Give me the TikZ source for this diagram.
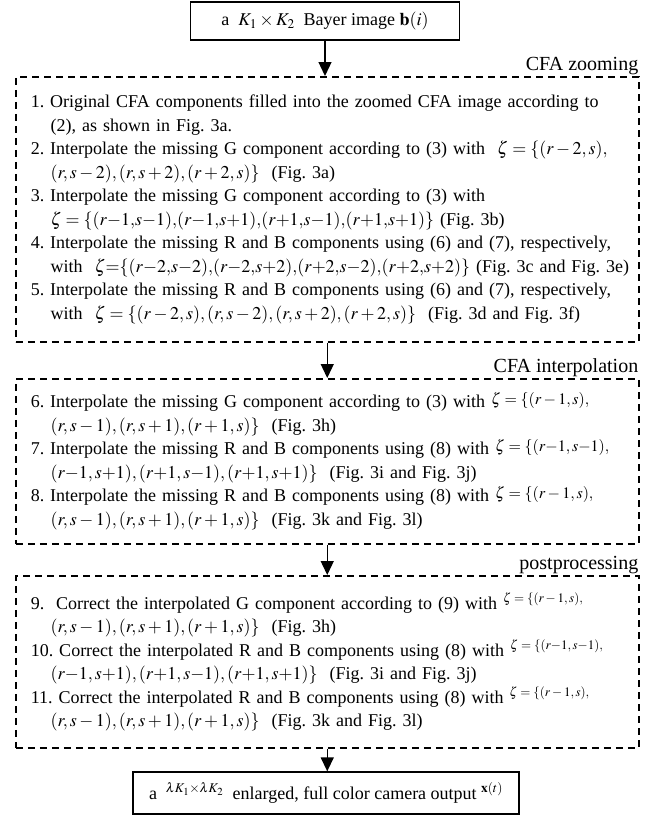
\documentclass[tikz,border=0pt]{standalone}
\usepackage{mathptmx}
\usepackage{fontspec}
\setmainfont{Liberation Serif}
\usetikzlibrary{positioning,arrows.meta}
\frenchspacing
\newcommand{\zset}[1]{\raisebox{3pt}{\fontsize{16}{16}\selectfont #1}}
\newcommand{\zsup}[1]{\raisebox{7pt}{\fontsize{13}{13}\selectfont #1}}
\newcommand{\cont}{\hspace*{1.1em}}

\begin{document}
\begin{tikzpicture}[x=1pt, y=1pt,
    box/.style={draw, line width=1.3pt, align=center, font=\fontsize{18}{22}\selectfont},
    stage/.style={draw, line width=1.5pt, dash pattern=on 7pt off 5pt, anchor=north west,
      text width=593pt, inner xsep=15pt, align=left, font=\fontsize{18}{23.5}\selectfont},
    stagename/.style={anchor=south east, inner sep=1pt, font=\fontsize{20}{20}\selectfont},
    arr/.style={-{Triangle[length=14pt, width=13pt]}, line width=1.3pt}]
  \useasboundingbox (0,0) rectangle (661,-817);
  \node[box, minimum width=269pt, minimum height=38pt] (bayer) at (325,-21)
    {a \ $K_1\times K_2$\ \ Bayer image $\mathbf{b}(i)$};
  % CFA zooming
  \node[stage, minimum height=265pt] (zoom) at (15,-76) {%
    \mbox{1. Original CFA components filled into the zoomed CFA image according to}\\
    \cont\mbox{(2), as shown in Fig. 3a.}\\
    \mbox{2. Interpolate the missing G component according to (3) with \ $\zeta=\{(r-2,s),$}\\
    \cont\mbox{$(r,s-2),(r,s+2),(r+2,s)\}$ \ (Fig. 3a)}\\
    \mbox{3. Interpolate the missing G component according to (3) with}\\
    \cont\mbox{$\zeta=\{(r{-}1{,}s{-}1){,}(r{-}1{,}s{+}1){,}(r{+}1{,}s{-}1){,}(r{+}1{,}s{+}1)\}$ (Fig. 3b)}\\
    \mbox{4. Interpolate the missing R and B components using (6) and (7), respectively,}\\
    \cont\mbox{with \ $\zeta{=}\{(r{-}2{,}s{-}2){,}(r{-}2{,}s{+}2){,}(r{+}2{,}s{-}2){,}(r{+}2{,}s{+}2)\}$ (Fig. 3c and Fig. 3e)}\\
    \mbox{5. Interpolate the missing R and B components using (6) and (7), respectively,}\\
    \cont\mbox{with \ $\zeta=\{(r-2,s),(r,s-2),(r,s+2),(r+2,s)\}$ \ (Fig. 3d and Fig. 3f)}};
  \node[stagename] (zoomname) at (zoom.north east) {CFA zooming};
  % CFA interpolation
  \node[stage, minimum height=165pt] (interp) at (15,-378) {%
    \mbox{6. Interpolate the missing G component according to (3) with \zset{$\zeta=\{(r-1,s),$}}\\
    \cont\mbox{$(r,s-1),(r,s+1),(r+1,s)\}$ \ (Fig. 3h)}\\
    \mbox{7. Interpolate the missing R and B components using (8) with \zset{$\zeta=\{(r{-}1,s{-}1),$}}\\
    \cont\mbox{$(r{-}1,s{+}1),(r{+}1,s{-}1),(r{+}1,s{+}1)\}$ \ (Fig. 3i and Fig. 3j)}\\
    \mbox{8. Interpolate the missing R and B components using (8) with \zset{$\zeta=\{(r-1,s),$}}\\
    \cont\mbox{$(r,s-1),(r,s+1),(r+1,s)\}$ \ (Fig. 3k and Fig. 3l)}};
  \node[stagename] (interpname) at (interp.north east) {CFA interpolation};
  % postprocessing
  \node[stage, minimum height=172pt] (post) at (15,-575) {%
    \mbox{9.\ \ Correct the interpolated G component according to (9) with \zsup{$\zeta=\{(r-1,s),$}}\\
    \cont\mbox{$(r,s-1),(r,s+1),(r+1,s)\}$ \ (Fig. 3h)}\\
    \mbox{10. Correct the interpolated R and B components using (8) with \zsup{$\zeta=\{(r{-}1,s{-}1),$}}\\
    \cont\mbox{$(r{-}1,s{+}1),(r{+}1,s{-}1),(r{+}1,s{+}1)\}$ \ (Fig. 3i and Fig. 3j)}\\
    \mbox{11. Correct the interpolated R and B components using (8) with \zsup{$\zeta=\{(r-1,s),$}}\\
    \cont\mbox{$(r,s-1),(r,s+1),(r+1,s)\}$ \ (Fig. 3k and Fig. 3l)}};
  \node[stagename] (postname) at (post.north east) {postprocessing};
  \node[box, minimum width=386pt, minimum height=42pt] (output) at (326,-793)
    {a \ $^{\lambda K_1\times\lambda K_2}$\ \ enlarged, full color camera output $^{\mathbf{x}(t)}$};
  \draw[arr] (bayer.south) -- (bayer.south |- zoom.north);
  \draw[arr] (zoom.south) -- (interp.north);
  \draw[arr] (interp.south) -- (post.north);
  \draw[arr] (post.south) -- (post.south |- output.north);
\end{tikzpicture}
\end{document}
